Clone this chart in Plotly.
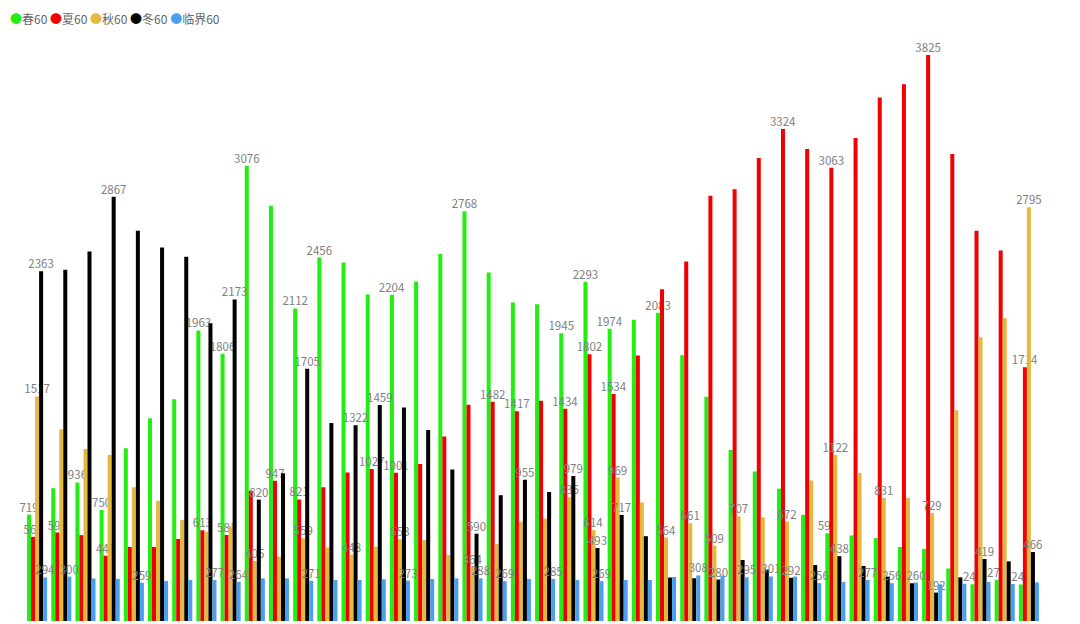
import plotly.graph_objects as go

# 42 groups, five series each
groups = [str(i) for i in range(1, 43)]

spring = [719, 897, 936, 750, 1167, 1370, 1499, 1963, 1806, 3076,
          2805, 2112, 2456, 2422, 2206, 2204, 2294, 2479, 2768, 2355,
          2152, 2141, 1945, 2293, 1974, 2035, 2083, 1796, 1516, 1155,
          1010, 893, 717, 592, 578, 560, 500, 487, 355, 248,
          278, 247]
summer = [569, 598, 580, 441, 500, 500, 554, 613, 581, 880,
          947, 821, 903, 1003, 1027, 1001, 1061, 1246, 1461, 1482,
          1417, 1489, 1434, 1802, 1534, 1794, 2242, 2429, 2873, 2918,
          3128, 3324, 3189, 3063, 3263, 3537, 3627, 3825, 3156, 2636,
          2503, 1714]
autumn = [1517, 1296, 1163, 1122, 904, 812, 683, 603, 640, 405,
          435, 559, 497, 448, 502, 553, 547, 446, 364, 520,
          671, 691, 836, 614, 969, 801, 564, 661, 509, 707,
          700, 672, 950, 1122, 1000, 831, 832, 729, 1424, 1917,
          2046, 2795]
winter = [2363, 2373, 2497, 2867, 2636, 2524, 2461, 2012, 2173, 820,
          998, 1705, 1338, 1322, 1459, 1442, 1291, 1023, 590, 850,
          955, 872, 979, 493, 717, 573, 294, 289, 280, 412,
          347, 292, 378, 438, 372, 300, 255, 192, 295, 419,
          403, 466]
critical = [294, 300, 287, 285, 259, 270, 277, 277, 264, 288,
            288, 271, 277, 277, 282, 273, 284, 288, 288, 269,
            284, 285, 277, 269, 277, 277, 297, 308, 306, 295,
            301, 300, 256, 264, 277, 256, 260, 248, 252, 264,
            250, 261]

# group numbers (1-based) whose value label is drawn (others hidden by overlap)
spring_lbl = [1, 3, 4, 8, 9, 10, 12, 13, 16, 19, 23, 24, 25, 27, 34, 40, 41, 42]
summer_lbl = [1, 2, 4, 8, 9, 11, 12, 15, 16, 20, 21, 23, 24, 25, 32, 34, 38, 42]
autumn_lbl = [1, 10, 12, 14, 16, 19, 23, 24, 25, 27, 28, 29, 30, 32, 34, 36, 38, 42]
winter_lbl = [1, 4, 9, 10, 12, 14, 15, 19, 21, 23, 24, 25, 29, 32, 34, 38, 40, 42]
critical_lbl = [1, 2, 5, 8, 9, 12, 16, 19, 20, 22, 24, 28, 30, 31, 33, 35, 36, 37]

series = [
    ("春60", spring, spring_lbl, "#22ee11"),
    ("夏60", summer, summer_lbl, "#f00000"),
    ("秋60", autumn, autumn_lbl, "#e4b940"),
    ("冬60", winter, winter_lbl, "#000000"),
    ("临界60", critical, critical_lbl, "#4a9ff0"),
]

FONT = "Noto Sans CJK SC, Noto Sans, sans-serif"

fig = go.Figure()
for name, vals, shown, color in series:
    text = [str(v) if (i + 1) in shown else "" for i, v in enumerate(vals)]
    fig.add_trace(go.Bar(
        x=groups, y=vals, name=name, marker_color=color, marker_line_width=0,
        text=text, textposition="outside", constraintext="none", cliponaxis=False,
        textfont=dict(family=FONT, size=11.5, color="#808080"),
        hoverinfo="x+y+name",
    ))

# legend row drawn as text with round coloured markers, as in the reference
legend_html = "&nbsp;".join(
    f'<span style="color:{c}">●</span>{n}' for n, _, _, c in series
)
fig.add_annotation(
    xref="paper", yref="paper", x=-17 / 1016, y=1 + 21 / 592,
    xanchor="left", yanchor="top", showarrow=False,
    text=legend_html, font=dict(family=FONT, size=12, color="#666666"),
)

# page body has an 8px margin, so the figure is 8px smaller than the window
fig.update_layout(
    width=1072, height=616,
    paper_bgcolor="white", plot_bgcolor="white",
    font=dict(family=FONT, size=12, color="#666666"),
    margin=dict(l=17, r=39, t=21, b=3, autoexpand=False),
    barmode="group", bargap=0.17, bargroupgap=0,
    showlegend=False,
    xaxis=dict(type="category", visible=False),
    yaxis=dict(range=[0, 4000], visible=False),
)

fig.write_html("out.html")
